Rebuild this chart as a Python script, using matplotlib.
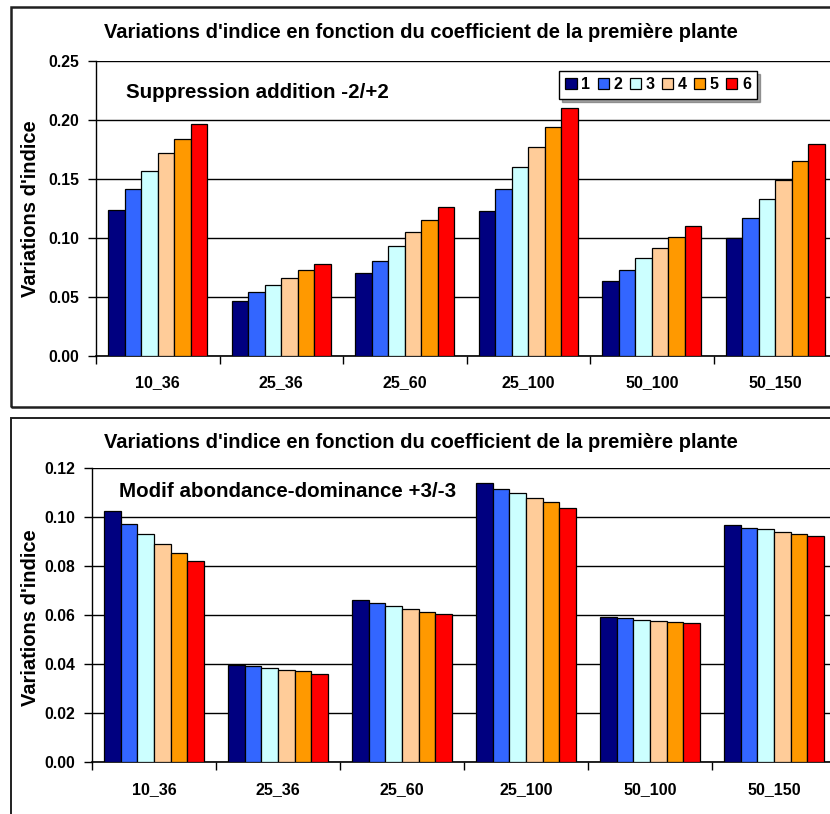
import numpy as np
import matplotlib.pyplot as plt
from matplotlib.patches import Rectangle

plt.rcParams['font.family'] = ['Liberation Sans', 'DejaVu Sans']
plt.rcParams['font.weight'] = 'bold'

categories = ['10_36', '25_36', '25_60', '25_100', '50_100', '50_150']
series_names = ['1', '2', '3', '4', '5', '6']
colors = ['#000080', '#3366FF', '#CCFFFF', '#FFCC99', '#FF9900', '#FF0000']

# top chart: Suppression addition -2/+2 (rows = categories, cols = series 1..6)
top_values = [
    [0.124, 0.142, 0.157, 0.172, 0.184, 0.197],
    [0.047, 0.054, 0.060, 0.066, 0.073, 0.078],
    [0.070, 0.081, 0.093, 0.105, 0.115, 0.126],
    [0.123, 0.142, 0.160, 0.177, 0.194, 0.210],
    [0.064, 0.073, 0.083, 0.092, 0.101, 0.110],
    [0.100, 0.117, 0.133, 0.149, 0.165, 0.180],
]
# bottom chart: Modif abondance-dominance +3/-3
bottom_values = [
    [0.1027, 0.0974, 0.0932, 0.0890, 0.0854, 0.0820],
    [0.0397, 0.0392, 0.0385, 0.0377, 0.0371, 0.0362],
    [0.0662, 0.0650, 0.0637, 0.0624, 0.0615, 0.0604],
    [0.1139, 0.1117, 0.1100, 0.1078, 0.1061, 0.1039],
    [0.0593, 0.0590, 0.0582, 0.0577, 0.0573, 0.0569],
    [0.0967, 0.0958, 0.0951, 0.0941, 0.0932, 0.0924],
]

title = "Variations d'indice en fonction du coefficient de la première plante"
ylabel = "Variations d'indice"
W, H = 830, 814


def px_axes(fig, left, top, right, bottom):
    return fig.add_axes([left / W, 1 - bottom / H, (right - left) / W, (bottom - top) / H])


def draw_panel(ax, values, ymax, step, fmt):
    vals = np.array(values)
    n = len(series_names)
    bw = 1 / 7.5
    x = np.arange(len(categories))
    for i in range(n):
        ax.bar(x - 3 * bw + bw / 2 + i * bw, vals[:, i], width=bw, color=colors[i],
               edgecolor='black', linewidth=0.9, label=series_names[i], zorder=3)
    ax.set_xlim(-0.5, len(categories) - 0.5)
    ax.set_ylim(0, ymax)
    yt = np.arange(0, ymax + step / 2, step)
    ax.set_yticks(yt)
    ax.set_yticklabels([fmt.format(v) for v in yt], fontsize=11.3, fontweight='bold')
    ax.yaxis.grid(True, color='black', linewidth=1, zorder=0)
    ax.set_xticks(np.arange(-0.5, len(categories)))
    ax.set_xticklabels([])
    ax.set_xticks(x, minor=True)
    ax.set_xticklabels(categories, minor=True, fontsize=11.5, fontweight='bold')
    ax.tick_params(axis='x', which='minor', length=0, pad=14)
    ax.tick_params(axis='x', which='major', length=6, width=1, direction='out')
    ax.tick_params(axis='y', length=6, width=1, direction='out', pad=6)
    for s in ['top', 'right']:
        ax.spines[s].set_visible(False)
    ax.spines['left'].set_linewidth(1)
    ax.spines['bottom'].set_linewidth(1.2)
    ax.set_axisbelow(True)


fig = plt.figure(figsize=(W / 100, H / 100), dpi=100)

# panel frames
fig.add_artist(Rectangle((11 / W, 1 - 407 / H), 1.2, (407 - 7) / H, transform=fig.transFigure,
                         fill=False, edgecolor='#202020', linewidth=1.8))
fig.add_artist(Rectangle((11 / W, -0.2), 1.2, 0.2 + (814 - 418) / H, transform=fig.transFigure,
                         fill=False, edgecolor='#202020', linewidth=1.4))

ax1 = px_axes(fig, 96, 61.3, 837, 356)
draw_panel(ax1, top_values, 0.25, 0.05, '{:.2f}')
ax1.text(30 / 741, 1 - (93 - 61.3) / 294.7, 'Suppression addition -2/+2', transform=ax1.transAxes,
         fontsize=14.8, fontweight='bold', va='center')
ax1.legend(loc='upper left', bbox_to_anchor=(559 / W, 1 - 71 / H), bbox_transform=fig.transFigure,
           ncol=6, fontsize=11.5, handlelength=0.7, handleheight=0.7, handletextpad=0.3,
           columnspacing=0.45, borderpad=0.4, frameon=True, fancybox=False, shadow=True,
           edgecolor='black', borderaxespad=0)
ax1.get_legend().get_frame().set_linewidth(1)

ax2 = px_axes(fig, 92, 468.3, 836, 762.3)
draw_panel(ax2, bottom_values, 0.12, 0.02, '{:.2f}')
ax2.text(27 / 744, 1 - (491.7 - 468.3) / 294, 'Modif abondance-dominance +3/-3', transform=ax2.transAxes,
         fontsize=14.8, fontweight='bold', va='center')

fig.text(421 / W, 1 - 33 / H, title, ha='center', va='center', fontsize=14.5, fontweight='bold')
fig.text(421 / W, 1 - 443 / H, title, ha='center', va='center', fontsize=14.5, fontweight='bold')
fig.text(30 / W, 1 - 209 / H, ylabel, rotation=90, ha='center', va='center', fontsize=14.5, fontweight='bold')
fig.text(30 / W, 1 - 618 / H, ylabel, rotation=90, ha='center', va='center', fontsize=14.5, fontweight='bold')

fig.savefig('out.png', dpi=100)
